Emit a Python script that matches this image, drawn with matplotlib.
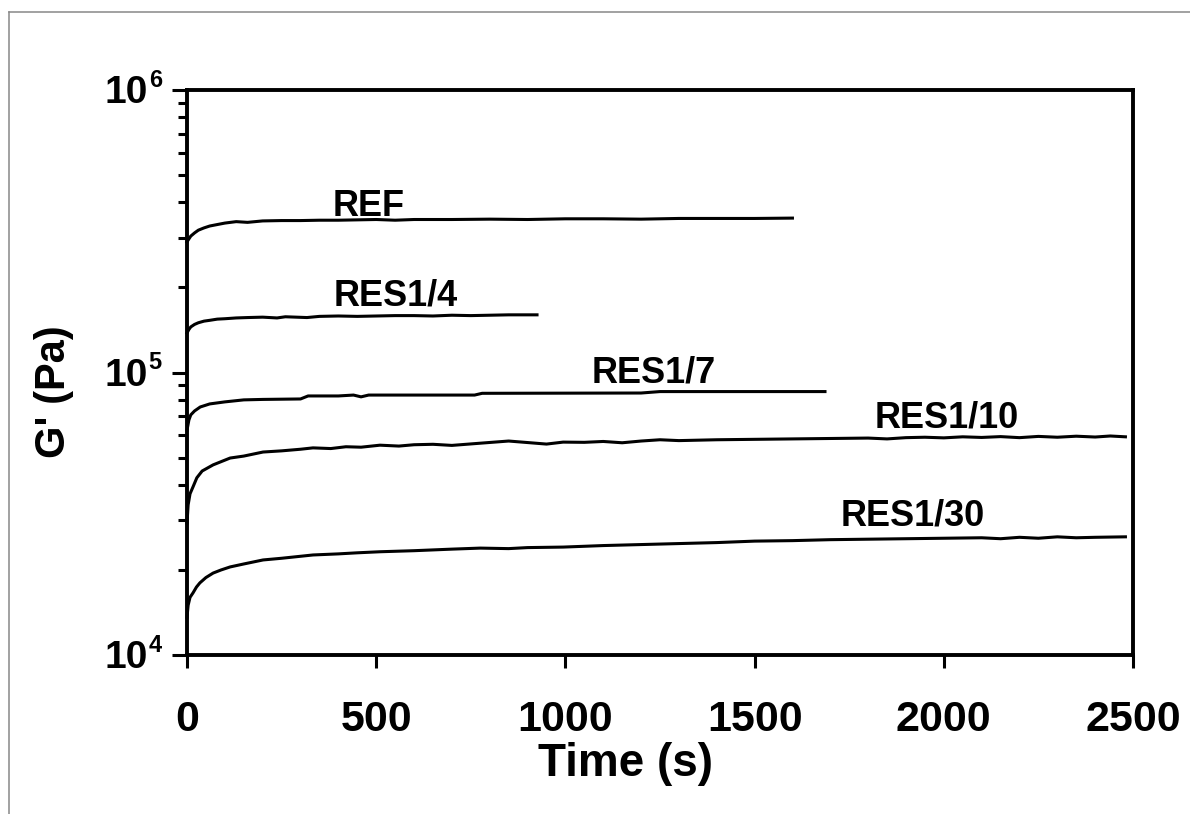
import matplotlib
matplotlib.use('Agg')
import matplotlib.pyplot as plt
import matplotlib.transforms as mtransforms
from matplotlib.lines import Line2D
from matplotlib.ticker import LogLocator

plt.rcParams['font.family'] = ['Liberation Sans', 'DejaVu Sans']
plt.rcParams['font.weight'] = 'bold'

# G' vs time curves
t_ref = [0, 5, 10, 20, 30, 45, 60, 80, 100, 130, 160, 200, 250, 300, 350, 400,
         450, 500, 550, 600, 700, 800, 900, 1000, 1100, 1200, 1300, 1400, 1500, 1600]
g_ref = [2.90e5, 2.97e5, 3.04e5, 3.12e5, 3.19e5, 3.25e5, 3.30e5, 3.34e5, 3.38e5, 3.42e5,
         3.40e5, 3.44e5, 3.45e5, 3.45e5, 3.46e5, 3.46e5, 3.47e5, 3.48e5, 3.46e5, 3.48e5,
         3.48e5, 3.49e5, 3.48e5, 3.50e5, 3.50e5, 3.49e5, 3.51e5, 3.51e5, 3.51e5, 3.52e5]

t_r4 = [0, 5, 10, 20, 30, 45, 60, 80, 100, 130, 160, 200, 238, 260, 317, 350, 400,
        450, 500, 550, 600, 650, 700, 750, 800, 850, 900, 925]
g_r4 = [1.38e5, 1.42e5, 1.45e5, 1.48e5, 1.50e5, 1.52e5, 1.53e5, 1.545e5, 1.55e5, 1.56e5,
        1.565e5, 1.57e5, 1.56e5, 1.575e5, 1.565e5, 1.58e5, 1.585e5, 1.58e5, 1.585e5, 1.59e5,
        1.59e5, 1.585e5, 1.595e5, 1.59e5, 1.595e5, 1.60e5, 1.60e5, 1.60e5]

t_r7 = [0, 5, 10, 20, 35, 60, 100, 150, 200, 300, 320, 400, 440, 460, 480, 760, 780,
        1200, 1250, 1686]
g_r7 = [6.25e4, 6.79e4, 7.08e4, 7.31e4, 7.55e4, 7.74e4, 7.87e4, 8.00e4, 8.03e4, 8.06e4,
        8.26e4, 8.26e4, 8.32e4, 8.20e4, 8.32e4, 8.32e4, 8.44e4, 8.46e4, 8.56e4, 8.56e4]

t_r10 = [0, 3, 8, 16, 26, 40, 69, 114, 150, 201, 250, 300, 333, 380, 420, 460, 510, 560,
         600, 650, 700, 775, 850, 900, 950, 994, 1050, 1100, 1150, 1200, 1250, 1300, 1400,
         1500, 1600, 1700, 1800, 1850, 1900, 1950, 2000, 2050, 2100, 2150, 2200, 2250,
         2300, 2350, 2400, 2440, 2480]
g_r10 = [2.93e4, 3.40e4, 3.72e4, 3.94e4, 4.24e4, 4.48e4, 4.71e4, 4.98e4, 5.06e4, 5.23e4,
         5.28e4, 5.35e4, 5.41e4, 5.38e4, 5.46e4, 5.44e4, 5.53e4, 5.49e4, 5.55e4, 5.57e4,
         5.52e4, 5.62e4, 5.72e4, 5.65e4, 5.58e4, 5.67e4, 5.66e4, 5.70e4, 5.64e4, 5.72e4,
         5.78e4, 5.74e4, 5.78e4, 5.80e4, 5.82e4, 5.84e4, 5.86e4, 5.82e4, 5.88e4, 5.90e4,
         5.87e4, 5.92e4, 5.89e4, 5.93e4, 5.88e4, 5.94e4, 5.90e4, 5.95e4, 5.91e4, 5.96e4, 5.92e4]

t_r30 = [0, 3, 8, 16, 25, 34, 50, 69, 90, 114, 150, 201, 250, 333, 400, 450, 510, 600,
         700, 775, 850, 900, 994, 1100, 1200, 1300, 1400, 1500, 1600, 1700, 1800, 1900,
         2000, 2100, 2150, 2200, 2250, 2300, 2350, 2400, 2480]
g_r30 = [1.36e4, 1.50e4, 1.60e4, 1.66e4, 1.74e4, 1.80e4, 1.88e4, 1.95e4, 2.00e4, 2.05e4,
         2.10e4, 2.17e4, 2.20e4, 2.26e4, 2.28e4, 2.30e4, 2.32e4, 2.34e4, 2.37e4, 2.39e4,
         2.38e4, 2.40e4, 2.41e4, 2.44e4, 2.46e4, 2.48e4, 2.50e4, 2.53e4, 2.54e4, 2.56e4,
         2.57e4, 2.58e4, 2.59e4, 2.60e4, 2.58e4, 2.61e4, 2.59e4, 2.62e4, 2.60e4, 2.61e4, 2.62e4]

labels = ['REF', 'RES1/4', 'RES1/7', 'RES1/10', 'RES1/30']
label_t = [481, 551, 1234, 2007, 1919]
label_g = [3.58e5, 1.72e5, 9.18e4, 6.37e4, 2.87e4]

decades = [1e4, 1e5, 1e6]
decade_exp = ['4', '5', '6']

fig = plt.figure(figsize=(11.9, 8.14), dpi=100)
ax = fig.add_axes([187 / 1190, 159 / 814, 946 / 1190, 565 / 814])

for t, g in [(t_ref, g_ref), (t_r4, g_r4), (t_r7, g_r7), (t_r10, g_r10), (t_r30, g_r30)]:
    ax.plot(t, g, color='black', lw=2.2, clip_on=False)

for lab, x, y in zip(labels, label_t, label_g):
    ax.text(x, y, lab, ha='center', va='baseline', fontsize=26, fontweight='bold')

ax.set_yscale('log')
ax.set_ylim(1e4, 1e6)
ax.set_xlim(0, 2500)
ax.set_xticks([0, 500, 1000, 1500, 2000, 2500])
ax.yaxis.set_major_locator(LogLocator(base=10, numticks=5))
ax.yaxis.set_minor_locator(LogLocator(base=10, subs=range(2, 10), numticks=20))

for s in ax.spines.values():
    s.set_linewidth(2.8)
ax.tick_params(axis='x', which='major', direction='out', length=9.5, width=2.2,
               labelsize=31, pad=23)
ax.tick_params(axis='y', which='major', direction='out', length=11, width=2.2,
               labelleft=False)
ax.tick_params(axis='y', which='minor', direction='out', length=6.5, width=2.2)

# y tick labels as "10" with a small superscript exponent
blend = mtransforms.blended_transform_factory(ax.transAxes, ax.transData)
for v, e in zip(decades, decade_exp):
    base_tr = blend + mtransforms.ScaledTranslation(-28.0 / 72, -9.5 / 72, fig.dpi_scale_trans)
    ax.text(0, v, '10', transform=base_tr, ha='right', va='baseline',
            fontsize=28, fontweight='bold', clip_on=False)
    sup_tr = blend + mtransforms.ScaledTranslation(-27.6 / 72, 2.5 / 72, fig.dpi_scale_trans)
    ax.text(0, v, e, transform=sup_tr, ha='left', va='baseline',
            fontsize=17, fontweight='bold', clip_on=False)

fig.text(625 / 1190, 1 - 764 / 814, 'Time (s)', ha='center', va='center',
         fontsize=33, fontweight='bold')
fig.text(54 / 1190, 1 - 392 / 814, "G' (Pa)", ha='center', va='center',
         rotation=90, fontsize=30, fontweight='bold')

# grey border of the original frame
fig.add_artist(Line2D([9 / 1190, 1], [1 - 12 / 814, 1 - 12 / 814], color='#888888', lw=1.1))
fig.add_artist(Line2D([9 / 1190, 9 / 1190], [0, 1 - 12 / 814], color='#888888', lw=1.1))

fig.savefig('out.png', dpi=100)
